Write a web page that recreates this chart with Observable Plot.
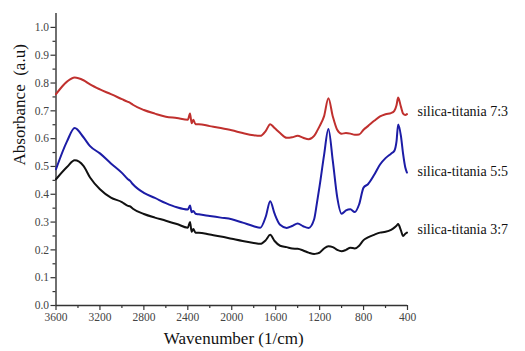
<!DOCTYPE html>
<html>
<head>
<meta charset="utf-8">
<script src="https://cdn.jsdelivr.net/npm/d3@7"></script>
<script src="https://cdn.jsdelivr.net/npm/@observablehq/plot@0.6"></script>
<style>
  html, body { margin: 0; padding: 0; background: #fff; }
  #chart { width: 525px; height: 351px; }
  #chart svg text { font-family: 'Liberation Serif', 'Times New Roman', serif; }
</style>
</head>
<body>
<div id="chart"></div>
<script>
// Wavenumber grid (1/cm), descending
const wavenumber = [3600, 3500, 3430, 3350, 3290, 3200, 3100, 3000, 2950, 2925, 2900, 2800, 2700, 2600, 2500, 2400, 2380, 2365, 2350, 2330, 2300, 2200, 2100, 2000, 1900, 1800, 1740, 1690, 1650, 1610, 1560, 1500, 1450, 1400, 1350, 1300, 1250, 1224, 1200, 1160, 1120, 1080, 1040, 1000, 960, 920, 880, 840, 800, 760, 700, 650, 600, 550, 520, 500, 485, 460, 440, 420, 405];

const series73 = [0.76, 0.805, 0.82, 0.81, 0.795, 0.777, 0.76, 0.742, 0.733, 0.729, 0.722, 0.703, 0.69, 0.679, 0.674, 0.668, 0.69, 0.655, 0.668, 0.652, 0.652, 0.645, 0.638, 0.63, 0.62, 0.612, 0.61, 0.628, 0.652, 0.638, 0.62, 0.603, 0.605, 0.61, 0.603, 0.598, 0.61, 0.627, 0.645, 0.68, 0.745, 0.68, 0.632, 0.618, 0.62, 0.618, 0.614, 0.615, 0.632, 0.645, 0.665, 0.68, 0.688, 0.692, 0.70, 0.72, 0.748, 0.715, 0.69, 0.685, 0.688];

const series55 = [0.49, 0.59, 0.638, 0.605, 0.573, 0.547, 0.511, 0.477, 0.456, 0.448, 0.436, 0.405, 0.387, 0.368, 0.353, 0.345, 0.36, 0.335, 0.34, 0.33, 0.328, 0.322, 0.316, 0.31, 0.298, 0.285, 0.28, 0.32, 0.375, 0.33, 0.29, 0.279, 0.286, 0.295, 0.285, 0.279, 0.31, 0.37, 0.43, 0.54, 0.635, 0.52, 0.39, 0.33, 0.342, 0.346, 0.336, 0.364, 0.424, 0.436, 0.472, 0.507, 0.53, 0.546, 0.556, 0.59, 0.651, 0.61, 0.545, 0.496, 0.478];

const series37 = [0.454, 0.498, 0.522, 0.502, 0.46, 0.418, 0.388, 0.372, 0.359, 0.356, 0.348, 0.329, 0.316, 0.305, 0.293, 0.28, 0.30, 0.265, 0.275, 0.262, 0.262, 0.255, 0.248, 0.24, 0.232, 0.225, 0.222, 0.235, 0.254, 0.232, 0.215, 0.21, 0.205, 0.204, 0.198, 0.19, 0.185, 0.187, 0.19, 0.205, 0.213, 0.21, 0.2, 0.195, 0.2, 0.208, 0.205, 0.215, 0.235, 0.245, 0.255, 0.262, 0.265, 0.272, 0.28, 0.287, 0.293, 0.27, 0.25, 0.258, 0.262];

const seriesNames = ["silica-titania 7:3", "silica-titania 5:5", "silica-titania 3:7"];
const seriesColors = ["#c0302e", "#1c1ca6", "#111111"];
const seriesValues = [series73, series55, series37];
const labelAnchorY = [0.696, 0.481, 0.272];

const xTicks = [3600, 3200, 2800, 2400, 2000, 1600, 1200, 800, 400];
const xMinor = [3400, 3000, 2600, 2200, 1800, 1400, 1000, 600];
const yTicks = [0, 0.1, 0.2, 0.3, 0.4, 0.5, 0.6, 0.7, 0.8, 0.9, 1.0];
const yMinor = [0.05, 0.15, 0.25, 0.35, 0.45, 0.55, 0.65, 0.75, 0.85, 0.95];

const rows = [];
seriesNames.forEach((name, i) => {
  wavenumber.forEach((w, j) => rows.push({series: name, w, a: seriesValues[i][j]}));
});
const labels = seriesNames.map((name, i) => ({series: name, w: 400, a: labelAnchorY[i]}));

const serif = "'Liberation Serif', 'Times New Roman', serif";

const chart = Plot.plot({
  width: 525,
  height: 351,
  marginLeft: 55.5,
  marginRight: 118,
  marginTop: 13,
  marginBottom: 46,
  style: {fontFamily: serif, background: "#fff", overflow: "visible"},
  x: {domain: [3600, 400]},
  y: {domain: [0, 1.05]},
  color: {domain: seriesNames, range: seriesColors},
  marks: [
    Plot.axisX({ticks: xTicks, tickSize: 5, tickPadding: 2, fontSize: 11.5, fontFamily: serif, fill: "#444", stroke: "#333", strokeWidth: 1.2, tickFormat: d => String(d), label: null}),
    Plot.axisX({ticks: xMinor, tickSize: 3, stroke: "#333", strokeWidth: 1.2, tickFormat: () => "", label: null}),
    Plot.axisY({ticks: yTicks, tickSize: 5, tickPadding: 2, fontSize: 11.5, fontFamily: serif, fill: "#444", stroke: "#333", strokeWidth: 1.2, tickFormat: d3.format(".1f"), label: null}),
    Plot.axisY({ticks: yMinor, tickSize: 3, stroke: "#333", strokeWidth: 1.2, tickFormat: () => "", label: null}),
    Plot.ruleX([3600], {y1: 0, y2: 1.05, stroke: "#333", strokeWidth: 1.4}),
    Plot.ruleY([0], {x1: 3600, x2: 400, stroke: "#333", strokeWidth: 1.4}),
    Plot.line(rows, {x: "w", y: "a", z: "series", stroke: "series", strokeWidth: 2, curve: "monotone-x"}),
    Plot.text(labels, {x: "w", y: "a", text: "series", textAnchor: "start", dx: 10, fontSize: 14, fontFamily: serif, fill: "#111"}),
    Plot.text(["Absorbance  (a.u)"], {frameAnchor: "left", dx: -36, dy: 6, rotate: -90, fontSize: 17, fontFamily: serif, fill: "#111"}),
    Plot.text(["Wavenumber (1/cm)"], {frameAnchor: "bottom", dx: 2, dy: 38, fontSize: 17, fontFamily: serif, fill: "#111"})
  ]
});
document.getElementById("chart").appendChild(chart);
</script>
</body>
</html>
